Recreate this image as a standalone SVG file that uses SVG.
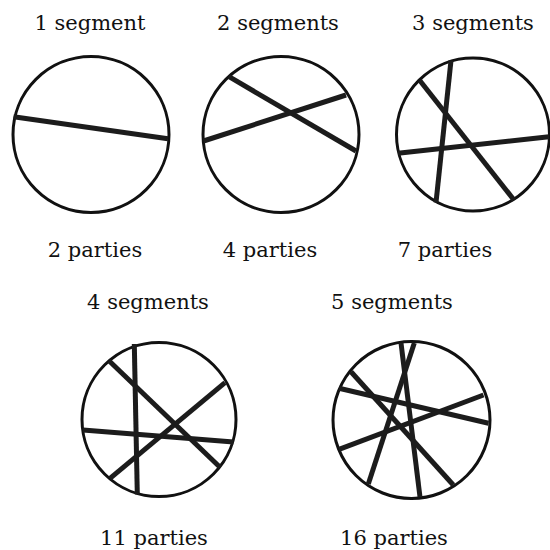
<svg xmlns="http://www.w3.org/2000/svg" width="550" height="550" viewBox="0 0 550 550">
<style>
.c{fill:none;stroke:#111;stroke-width:3}
.s{stroke:#1c1c1c;stroke-width:5;stroke-linecap:butt}
text{font-family:"DejaVu Serif","Liberation Serif",serif;font-size:21px;fill:#111;text-anchor:middle}
</style>
<rect width="550" height="550" fill="#fff"/>
<g id="labels">
<text x="90" y="30">1 segment</text>
<text x="278" y="30">2 segments</text>
<text x="473" y="30">3 segments</text>
<text x="95" y="257">2 parties</text>
<text x="270" y="257">4 parties</text>
<text x="445" y="257">7 parties</text>
<text x="148" y="309">4 segments</text>
<text x="392" y="309">5 segments</text>
<text x="154" y="545">11 parties</text>
<text x="394" y="545">16 parties</text>
</g>
<g id="circle1"><circle class="c" cx="91" cy="134.5" r="78"/></g>
<g id="circle2"><circle class="c" cx="281" cy="134.5" r="78"/></g>
<g id="circle3"><circle class="c" cx="473" cy="134.5" r="76.5"/></g>
<g id="circle4"><circle class="c" cx="159" cy="419.5" r="77"/></g>
<g id="circle5"><circle class="c" cx="411.5" cy="420" r="78.5"/></g>
<g id="connectors">
<line class="s" x1="13.5" y1="116.7" x2="168" y2="138.7"/>
<line class="s" x1="229" y1="76.7" x2="356" y2="151"/>
<line class="s" x1="203.5" y1="141" x2="346" y2="95"/>
<line class="s" x1="451" y1="60.5" x2="436" y2="202.5"/>
<line class="s" x1="420" y1="80.7" x2="514" y2="200"/>
<line class="s" x1="398" y1="153.3" x2="549" y2="136.7"/>
<line class="s" x1="134.3" y1="344" x2="137.3" y2="494.5"/>
<line class="s" x1="109" y1="360.7" x2="220" y2="467.3"/>
<line class="s" x1="83" y1="430" x2="233.5" y2="442"/>
<line class="s" x1="110" y1="478.3" x2="225" y2="382.7"/>
<line class="s" x1="401" y1="343" x2="420" y2="497"/>
<line class="s" x1="414.3" y1="343" x2="368.3" y2="484"/>
<line class="s" x1="351" y1="371.7" x2="453.3" y2="485"/>
<line class="s" x1="339" y1="388.3" x2="488.5" y2="423.3"/>
<line class="s" x1="339" y1="449.3" x2="483.5" y2="395"/>
</g>
</svg>
